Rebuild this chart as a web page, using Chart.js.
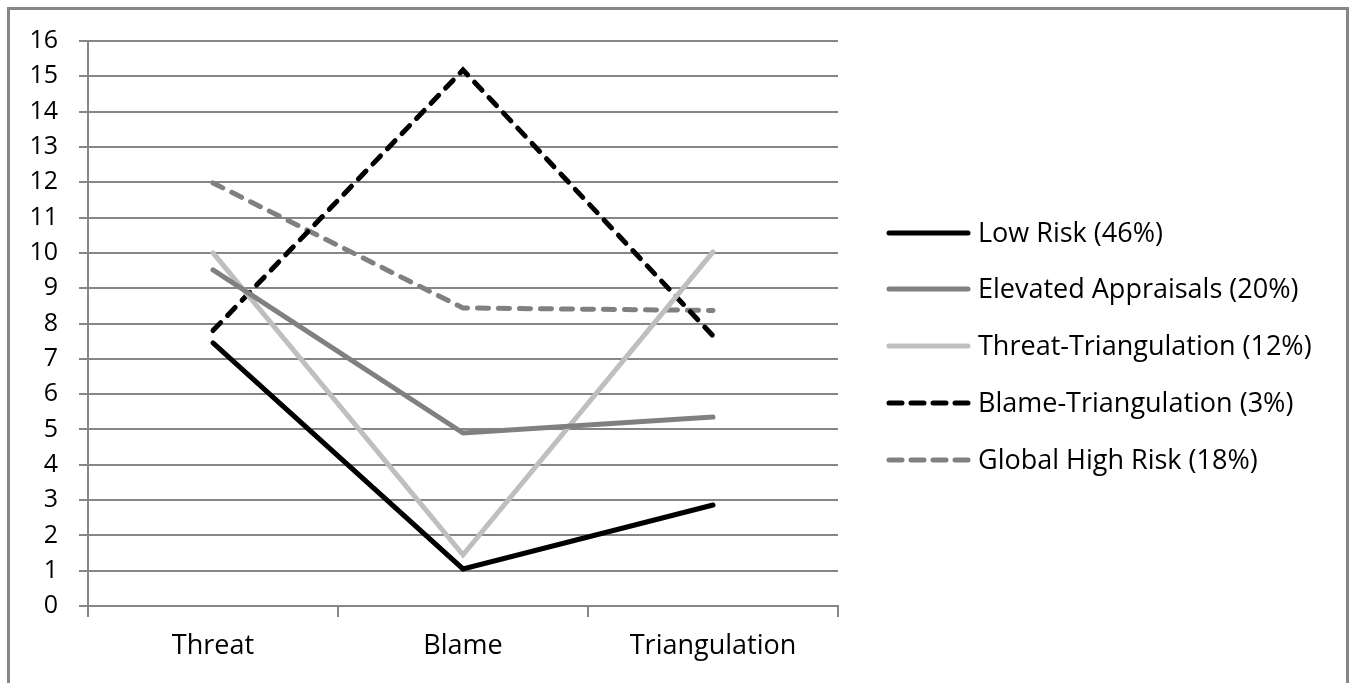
<!DOCTYPE html>
<html>
<head>
<meta charset="utf-8">
<script src="https://cdn.jsdelivr.net/npm/chart.js@4/dist/chart.umd.min.js"></script>
<style>
  html, body { margin: 0; padding: 0; background: #fff; }
  #wrap { width: 1353px; height: 683px; position: relative; }
</style>
</head>
<body>
<div id="wrap"><canvas id="c" width="1353" height="683"></canvas></div>
<script>
const categories = ["Threat", "Blame", "Triangulation"];
const seriesNames = [
  "Low Risk (46%)",
  "Elevated Appraisals (20%)",
  "Threat-Triangulation (12%)",
  "Blame-Triangulation (3%)",
  "Global High Risk (18%)"
];
const lowRisk = [7.45, 1.05, 2.86];
const elevatedAppraisals = [9.52, 4.9, 5.35];
const threatTriangulation = [10.0, 1.45, 10.03];
const blameTriangulation = [7.8, 15.18, 7.65];
const globalHighRisk = [11.98, 8.44, 8.37];
const yTicks = [0,1,2,3,4,5,6,7,8,9,10,11,12,13,14,15,16];

const FONT = "'Open Sans', Lato, sans-serif";
const FONT_SIZE = 27;
const Y_FONT_SIZE = 25;
const styles = [
  { color: "#000000", dash: [] },
  { color: "#808080", dash: [] },
  { color: "#bfbfbf", dash: [] },
  { color: "#000000", dash: [11, 10] },
  { color: "#808080", dash: [11, 10] }
];
const values = [lowRisk, elevatedAppraisals, threatTriangulation, blameTriangulation, globalHighRisk];

const datasets = seriesNames.map((name, i) => ({
  label: name,
  data: values[i],
  borderColor: styles[i].color,
  backgroundColor: styles[i].color,
  borderWidth: 5,
  borderDash: styles[i].dash,
  borderCapStyle: "round",
  borderJoinStyle: "miter",
  pointRadius: 0,
  tension: 0,
  fill: false
}));

const framePlugin = {
  id: "frame",
  beforeDraw(chart) {
    const ctx = chart.ctx;
    ctx.save();
    ctx.fillStyle = "#fff";
    ctx.fillRect(0, 0, chart.width, chart.height);
    ctx.strokeStyle = "#868686";
    ctx.lineWidth = 3;
    ctx.beginPath();
    ctx.moveTo(8.5, 700);
    ctx.lineTo(8.5, 8.5);
    ctx.lineTo(1347.5, 8.5);
    ctx.lineTo(1347.5, 700);
    ctx.stroke();
    ctx.restore();
  }
};

const legendPlugin = {
  id: "customLegend",
  afterDraw(chart) {
    const ctx = chart.ctx;
    ctx.save();
    const x0 = 889, x1 = 968, tx = 978;
    const ys = [233, 289, 346, 403, 460];
    chart.data.datasets.forEach((ds, i) => {
      const y = ys[i];
      ctx.strokeStyle = ds.borderColor;
      ctx.lineWidth = 5;
      ctx.lineCap = "round";
      ctx.setLineDash(ds.borderDash && ds.borderDash.length ? [13, 9] : []);
      ctx.beginPath();
      ctx.moveTo(x0, y);
      ctx.lineTo(x1, y);
      ctx.stroke();
      ctx.setLineDash([]);
      ctx.fillStyle = "#000";
      ctx.font = FONT_SIZE + "px " + FONT;
      ctx.textBaseline = "middle";
      ctx.textAlign = "left";
      ctx.fillText(ds.label, tx, y + 1);
    });
    ctx.restore();
  }
};

new Chart(document.getElementById("c"), {
  type: "line",
  data: { labels: categories, datasets },
  options: {
    responsive: false,
    animation: false,
    events: [],
    layout: { padding: { left: 0, top: 41, right: 515, bottom: 0 } },
    plugins: { legend: { display: false }, tooltip: { enabled: false } },
    scales: {
      x: {
        offset: true,
        grid: {
          offset: true,
          drawOnChartArea: false,
          drawTicks: true,
          tickLength: 11,
          color: "#868686",
          lineWidth: 2
        },
        border: { display: true, color: "#868686", width: 2 },
        ticks: {
          color: "#000",
          font: { family: FONT, size: FONT_SIZE },
          padding: 13,
          autoSkip: false,
          maxRotation: 0
        },
        afterFit(scale) { scale.height = 77; }
      },
      y: {
        min: 0,
        max: 16,
        afterBuildTicks(scale) { scale.ticks = yTicks.map(v => ({ value: v })); },
        grid: {
          color: "#868686",
          lineWidth: 2,
          drawTicks: true,
          tickLength: 9
        },
        border: { display: true, color: "#868686", width: 2 },
        ticks: {
          color: "#000",
          font: { family: FONT, size: Y_FONT_SIZE },
          padding: 21,
          autoSkip: false
        },
        afterFit(scale) { scale.width = 88; }
      }
    }
  },
  plugins: [framePlugin, legendPlugin]
});
</script>
</body>
</html>
